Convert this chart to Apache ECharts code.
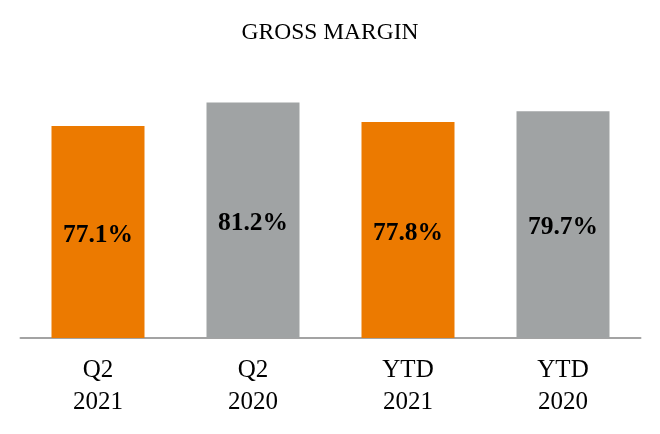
<!DOCTYPE html>
<html>
<head>
<meta charset="utf-8">
<script src="https://cdn.jsdelivr.net/npm/echarts@6/dist/echarts.min.js"></script>
<style>
html,body{margin:0;padding:0;background:#fff;}
#chart{width:660px;height:434px;}
</style>
</head>
<body>
<div id="chart"></div>
<script>
var titleText = 'GROSS MARGIN';
var categories = ['Q2\n2021', 'Q2\n2020', 'YTD\n2021', 'YTD\n2020'];
var values = [77.1, 81.2, 77.8, 79.7];
var barColors = ['#EC7A00', '#A0A3A4', '#EC7A00', '#A0A3A4'];

var FONT = '"Liberation Serif", "Times New Roman", serif';
var chart = echarts.init(document.getElementById('chart'));
chart.setOption({
  animation: false,
  backgroundColor: '#fff',
  title: {
    text: titleText,
    left: 'center',
    top: 16,
    textStyle: { fontFamily: FONT, fontSize: 23.5, fontWeight: 'normal', color: '#000' }
  },
  grid: { left: 20.5, right: 19.5, top: 52.3, bottom: 96 },
  xAxis: {
    type: 'category',
    data: categories,
    axisLine: { show: true, lineStyle: { color: '#a3a3a3', width: 2 } },
    axisTick: { show: false },
    axisLabel: {
      fontFamily: FONT, fontSize: 25, color: '#000', lineHeight: 32, margin: 16
    }
  },
  yAxis: {
    type: 'value',
    min: 40,
    max: 90,
    show: false,
    splitLine: { show: false }
  },
  series: [{
    type: 'bar',
    barWidth: '60%',
    data: values.map(function (v, i) {
      return { value: v, itemStyle: { color: barColors[i] } };
    }),
    label: {
      show: true,
      position: 'inside',
      offset: [0, 3],
      formatter: '{c}%',
      fontFamily: FONT,
      fontSize: 25.5,
      fontWeight: 'bold',
      color: '#000'
    }
  }]
});
</script>
</body>
</html>
